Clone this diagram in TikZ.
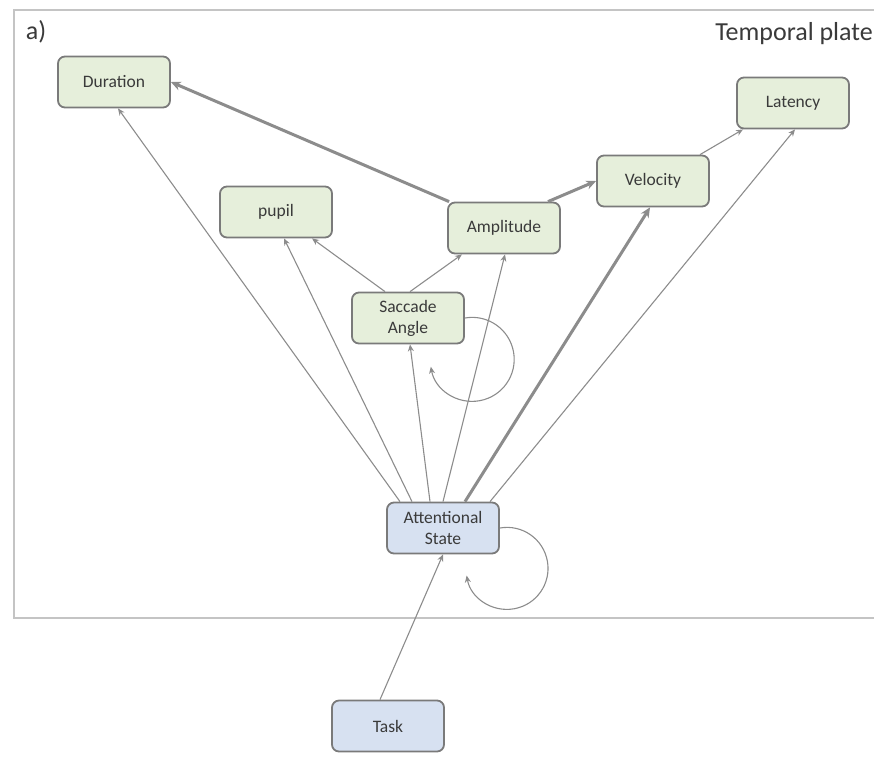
\documentclass[tikz,border=0pt]{standalone}
\usepackage{fontspec}
\setmainfont{Carlito}
\usetikzlibrary{arrows.meta}
\definecolor{boxgreen}{HTML}{E6EFDB}
\definecolor{boxblue}{HTML}{D7E1F1}
\definecolor{boxline}{HTML}{7A7A7A}
\definecolor{edgegray}{HTML}{8C8C8C}
\definecolor{plategray}{HTML}{C4C4C4}
\definecolor{txtgray}{HTML}{3A3A3A}
\tikzset{
	varbox/.style={draw=boxline, line width=1.8pt, rounded corners=7pt, minimum width=112pt, minimum height=51pt, align=center, text=txtgray, font=\fontsize{17.5}{21}\selectfont},
	greenbox/.style={varbox, fill=boxgreen},
	bluebox/.style={varbox, fill=boxblue},
	thinarrow/.style={draw=edgegray, line width=1.1pt, -{Stealth[length=7pt,width=6pt]}},
	thickarrow/.style={draw=edgegray, line width=3pt, -{Stealth[length=10pt,width=9pt]}}
}
\begin{document}
\begin{tikzpicture}[x=1pt, y=-1pt]
			\useasboundingbox (0,0) rectangle (874,780);
			\draw[plategray, line width=1.5pt] (874,10) -- (14,10) -- (14,618) -- (874,618);
			\node[text=txtgray, font=\fontsize{26}{30}\selectfont] (lbl) at (36,32){a)};
			\node[text=txtgray, font=\fontsize{26}{30}\selectfont, anchor=east, inner xsep=1pt] (plate) at (874,34){Temporal plate};
			
			% variables
			\node[greenbox] (dur) at (114,82){Duration};
			\node[greenbox] (pup) at (276,212){pupil};
			\node[greenbox] (amp) at (504,228){Amplitude};
			\node[greenbox] (vel) at (653,181){Velocity};
			\node[greenbox] (lat) at (793,103){Latency};
			\node[greenbox] (sac) at (408,318){Saccade\\Angle};
			\node[bluebox] (att) at (443,528){Attentional\\State};
			\node[bluebox] (task) at (388,726){Task};
			
			% from attentional state
			\draw[thinarrow] ([xshift=-43pt]att.north) -- ([xshift=4pt]dur.south);
			\draw[thinarrow] ([xshift=-31pt]att.north) -- ([xshift=8pt]pup.south);
			\draw[thinarrow] ([xshift=-13pt]att.north) -- ([xshift=2pt]sac.south);
			\draw[thinarrow] (att.north) -- ([xshift=1pt]amp.south);
			\draw[thickarrow] ([xshift=22pt]att.north) -- ([xshift=-3pt]vel.south);
			\draw[thinarrow] ([xshift=47pt]att.north) -- ([xshift=2pt]lat.south);
			
			\draw[thinarrow] ([xshift=-23pt]sac.north) -- ([xshift=36pt]pup.south);
			\draw[thinarrow] ([xshift=2pt]sac.north) -- ([xshift=-42pt]amp.south);
			\draw[thickarrow] ([xshift=2pt]amp.north west) -- (dur.east);
			\draw[thickarrow] ([xshift=44pt]amp.north) -- (vel.west);
			\draw[thinarrow] ([xshift=47pt]vel.north) -- ([xshift=-50pt]lat.south);
			\draw[thinarrow] ([xshift=-8pt]task.north) -- (att.south);
			
			% self loops
			\draw[thinarrow] (sac.east) arc[start angle=-100, end angle=170, radius=42];
			\draw[thinarrow] (att.east) arc[start angle=-100, end angle=170, radius=41];
		\end{tikzpicture}
\end{document}
